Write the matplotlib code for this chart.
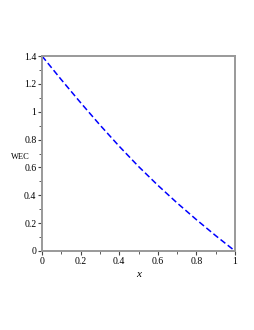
import matplotlib
matplotlib.use("Agg")
import matplotlib.pyplot as plt
from matplotlib.ticker import MultipleLocator

# values
x = [0.0, 0.1, 0.2, 0.3, 0.4, 0.5, 0.6, 0.7, 0.8, 0.9, 1.0]
wec = [1.4, 1.23, 1.065, 0.905, 0.752, 0.607, 0.472, 0.345, 0.225, 0.11, 0.0]

xticks = [0, 0.2, 0.4, 0.6, 0.8, 1]
xticklabels = ["0", "0.2", "0.4", "0.6", "0.8", "1"]
yticks = [0, 0.2, 0.4, 0.6, 0.8, 1, 1.2, 1.4]
yticklabels = ["0", "0.2", "0.4", "0.6", "0.8", "1", "1.2", "1.4"]

plt.rcParams['font.family'] = ['Liberation Serif', 'DejaVu Serif']

fig = plt.figure(figsize=(2.55, 3.3), dpi=100)
ax = fig.add_axes([42 / 255, 1 - 251 / 330, 193 / 255, 195 / 330])

ax.plot(x, wec, color='#0000ff', linestyle=(0, (4, 2)), linewidth=1.1)

ax.set_xlim(0, 1)
ax.set_ylim(0, 1.4)
ax.set_xticks(xticks)
ax.set_xticklabels(xticklabels)
ax.set_yticks(yticks)
ax.set_yticklabels(yticklabels)
ax.xaxis.set_minor_locator(MultipleLocator(0.1))
ax.yaxis.set_minor_locator(MultipleLocator(0.1))
ax.tick_params(which='major', length=3, width=0.8, labelsize=7, pad=1, color='#444444')
ax.tick_params(which='minor', length=2, width=0.6, color='#444444')
ax.tick_params(top=False, right=False)

for s in ax.spines.values():
    s.set_color('#999999')
    s.set_linewidth(1.4)

ax.set_xlabel('x', fontstyle='italic', fontsize=8, labelpad=3)
ax.set_ylabel('WEC', rotation=0, fontsize=6, va='center', ha='center')
ax.yaxis.set_label_coords(-0.11, 0.48)

fig.savefig('out.png', dpi=100)
